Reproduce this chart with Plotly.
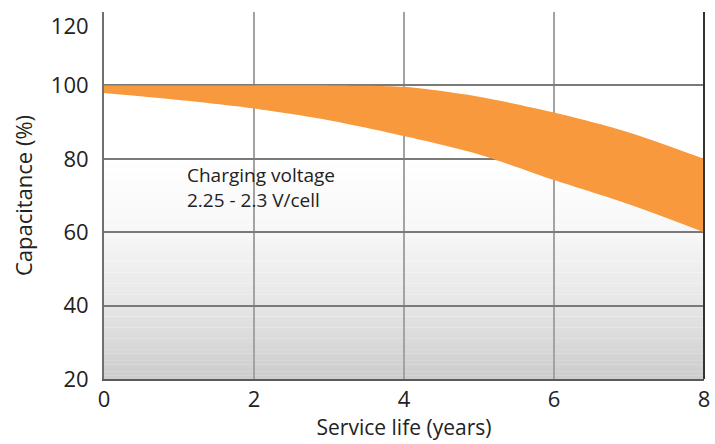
import numpy as np
import plotly.graph_objects as go

# service life in years
years = [0, 1, 2, 3, 4, 5, 6, 7, 8]
# capacitance band, upper and lower edge (%)
cap_upper = [100, 100, 100, 100, 99.6, 96.9, 92.6, 87.2, 80]
cap_lower = [97.9, 96.0, 93.7, 90.5, 86.2, 81.2, 74.2, 67.6, 60]

x_ticks = [0, 2, 4, 6, 8]
y_ticks = [20, 40, 60, 80, 100, 120]
# the top label sits a little under its line in the original
y_ticktext = ["20", "40", "60", "80", "100", "<br>120"]

note = "Charging voltage<br>2.25 - 2.3 V/cell"

font_family = "'Open Sans', sans-serif"
orange = "#F7993C"

fig = go.Figure()

fig.add_trace(go.Scatter(
    x=years, y=cap_lower, mode="lines",
    line=dict(width=0, shape="spline", smoothing=0.8),
    hoverinfo="skip", showlegend=False,
))
fig.add_trace(go.Scatter(
    x=years, y=cap_upper, mode="lines",
    line=dict(width=0, shape="spline", smoothing=0.8),
    fill="tonexty", fillcolor=orange,
    hoverinfo="skip", showlegend=False,
))

# grey gradient in the lower part of the plot, as thin strips below the grid
stops_y = [20, 40, 60, 80]
stops_c = [204, 230, 247, 255]
edges = np.linspace(20, 80, 61)
shapes = []
for y0, y1 in zip(edges[:-1], edges[1:]):
    c = int(round(np.interp((y0 + y1) / 2, stops_y, stops_c)))
    shapes.append(dict(
        type="rect", xref="paper", yref="y", x0=0, x1=1, y0=y0, y1=y1 + 0.05,
        fillcolor=f"rgb({c},{c},{c+1})", line=dict(width=0), layer="below",
    ))
# right border
shapes.append(dict(
    type="line", xref="paper", yref="paper", x0=1, x1=1, y0=0, y1=1,
    line=dict(color="#333333", width=2), layer="above",
))

fig.add_annotation(
    x=1.08, y=72.2, xref="x", yref="y", text=note, showarrow=False,
    xanchor="left", yanchor="middle", align="left",
    font=dict(family=font_family, size=19, color="#222222"),
)

fig.update_layout(
    width=715, height=444,
    margin=dict(l=104, r=11, t=12, b=65),
    paper_bgcolor="white", plot_bgcolor="white",
    font=dict(family=font_family, color="#222222"),
    shapes=shapes,
    xaxis=dict(
        range=[0, 8], tickvals=x_ticks, showgrid=True,
        gridcolor="#a3a3a3", gridwidth=1.5,
        showline=True, linecolor="#5a5a5a", linewidth=2,
        zeroline=False, ticks="", ticklabelstandoff=0,
        tickfont=dict(size=22), automargin=False, ticklabeloverflow="allow",
        title=dict(text="Service life (years)", font=dict(size=21), standoff=6),
    ),
    yaxis=dict(
        range=[20, 120], tickvals=y_ticks, ticktext=y_ticktext, showgrid=True,
        gridcolor="#7a7a7a", gridwidth=1.5,
        showline=True, linecolor="#707070", linewidth=2,
        zeroline=False, ticks="", ticklabelstandoff=9,
        tickfont=dict(size=22), automargin=False, ticklabeloverflow="allow",
        title=dict(text="Capacitance (%)", font=dict(size=22), standoff=12),
    ),
)

fig.write_html(
    "out.html",
    config={"displayModeBar": False},
    post_script="document.body.style.margin = '0';",
)
